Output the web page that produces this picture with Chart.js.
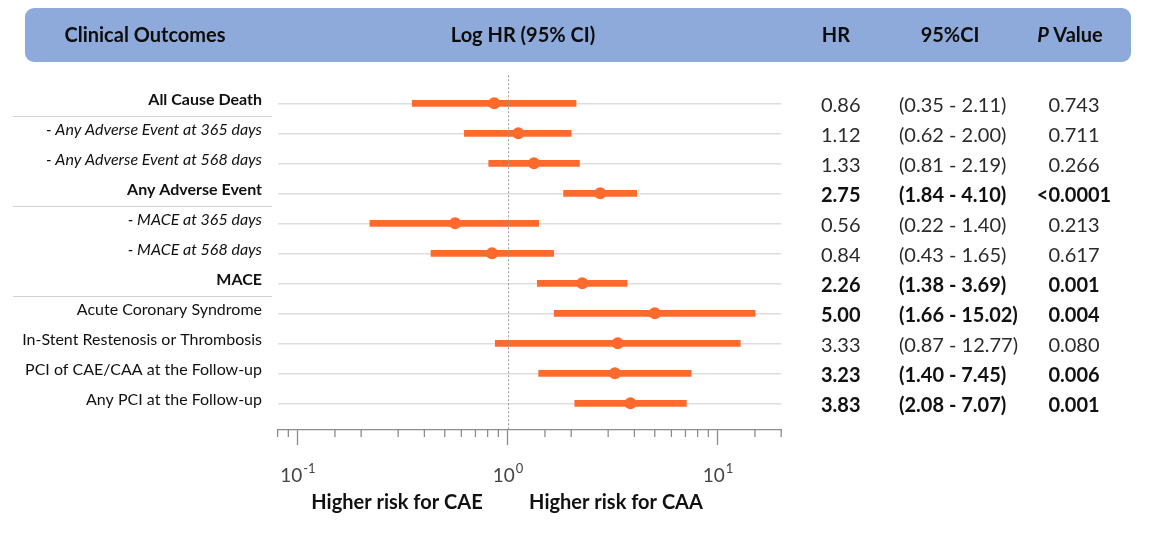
<!DOCTYPE html>
<html>
<head>
<meta charset="utf-8">
<script src="https://cdn.jsdelivr.net/npm/chart.js@4.4.1/dist/chart.umd.min.js"></script>
<style>
  html, body { margin: 0; padding: 0; background: #ffffff; }
  canvas { display: block; }
</style>
</head>
<body>
<canvas id="forest" width="1161" height="544"></canvas>
<script>
// ---- Data -------------------------------------------------------------
const outcomes = [
  'All Cause Death',
  '- Any Adverse Event at 365 days',
  '- Any Adverse Event at 568 days',
  'Any Adverse Event',
  '- MACE at 365 days',
  '- MACE at 568 days',
  'MACE',
  'Acute Coronary Syndrome',
  'In-Stent Restenosis or Thrombosis',
  'PCI of CAE/CAA at the Follow-up',
  'Any PCI at the Follow-up'
];
const hazardRatio = [0.86, 1.12, 1.33, 2.75, 0.56, 0.84, 2.26, 5.00, 3.33, 3.23, 3.83];
const ciLower     = [0.35, 0.62, 0.81, 1.84, 0.22, 0.43, 1.38, 1.66, 0.87, 1.40, 2.08];
const ciUpper     = [2.11, 2.00, 2.19, 4.10, 1.40, 1.65, 3.69, 15.02, 12.77, 7.45, 7.07];
const pValues     = ['0.743', '0.711', '0.266', '<0.0001', '0.213', '0.617', '0.001', '0.004', '0.080', '0.006', '0.001'];
const headlineOutcomes = ['All Cause Death', 'Any Adverse Event', 'MACE'];
const decadeTicks = [0.1, 1, 10];
const sideLabels = ['Higher risk for CAE', 'Higher risk for CAA'];
const columnHeaders = ['Clinical Outcomes', 'Log HR (95% CI)', 'HR', '95%CI', 'Value'];

// ---- Styling ----------------------------------------------------------
const ORANGE = '#fd6a2c';
const FONT = 'Lato, "Open Sans", sans-serif';
const isDecade = v => Math.abs(Math.log10(v) - Math.round(Math.log10(v))) < 1e-9;
const pNum = s => parseFloat(s.replace('<', ''));

const forestDecor = {
  id: 'forestDecor',
  beforeDraw(chart) {
    const ctx = chart.ctx;
    ctx.save();
    // header band
    ctx.fillStyle = '#8eaadb';
    ctx.beginPath();
    ctx.roundRect(25, 8, 1106, 54, 9);
    ctx.fill();
    ctx.fillStyle = '#0d0d0d';
    ctx.textBaseline = 'middle';
    ctx.textAlign = 'center';
    ctx.font = 'bold 20px ' + FONT;
    ctx.fillText(columnHeaders[0], 145, 36);
    ctx.fillText(columnHeaders[1], 523, 36);
    ctx.fillText(columnHeaders[2], 836, 36);
    ctx.fillText(columnHeaders[3], 950, 36);
    // "P Value" with italic P
    ctx.textAlign = 'left';
    ctx.font = 'italic bold 20px ' + FONT;
    const wP = ctx.measureText('P ').width;
    ctx.font = 'bold 20px ' + FONT;
    const wV = ctx.measureText(columnHeaders[4]).width;
    const x0 = 1070 - (wP + wV) / 2;
    ctx.font = 'italic bold 20px ' + FONT;
    ctx.fillText('P', x0, 36);
    ctx.font = 'bold 20px ' + FONT;
    ctx.fillText(columnHeaders[4], x0 + wP, 36);
    ctx.restore();
  },
  afterDatasetsDraw(chart) {
    const ctx = chart.ctx;
    const xs = chart.scales.x;
    const area = chart.chartArea;
    ctx.save();
    // reference line at HR = 1
    const x1 = Math.round(xs.getPixelForValue(1)) + 0.5;
    ctx.strokeStyle = '#9a9a9a';
    ctx.lineWidth = 1;
    ctx.setLineDash([2, 2]);
    ctx.beginPath();
    ctx.moveTo(x1, area.top + 2);
    ctx.lineTo(x1, area.bottom);
    ctx.stroke();
    ctx.setLineDash([]);
    // minor tick marks below the axis
    ctx.strokeStyle = '#8c8c8c';
    ctx.lineWidth = 1.3;
    xs.ticks.forEach(t => {
      if (isDecade(t.value)) return;
      const px = xs.getPixelForValue(t.value);
      ctx.beginPath();
      ctx.moveTo(px, area.bottom);
      ctx.lineTo(px, area.bottom + 7);
      ctx.stroke();
    });
    ctx.restore();
  },
  afterDraw(chart) {
    const ctx = chart.ctx;
    const xs = chart.scales.x;
    const ys = chart.scales.y;
    const area = chart.chartArea;
    ctx.save();
    ctx.textBaseline = 'middle';

    outcomes.forEach((name, i) => {
      const y = ys.getPixelForValue(i + 1);
      // outcome label
      const headline = headlineOutcomes.includes(name);
      const sub = name.startsWith('- ');
      ctx.fillStyle = '#111111';
      ctx.textAlign = 'right';
      ctx.font = (headline ? 'bold ' : sub ? 'italic ' : '') + '16px ' + FONT;
      ctx.fillText(name, 262, y - 3);
      // separators below headline rows
      if (headline) {
        const ySep = Math.round(ys.getPixelForValue(i + 1.42)) + 0.5;
        ctx.strokeStyle = '#d2d2d2';
        ctx.lineWidth = 1.2;
        ctx.beginPath();
        ctx.moveTo(13, ySep);
        ctx.lineTo(272, ySep);
        ctx.stroke();
      }
      // numeric columns
      const sig = pNum(pValues[i]) < 0.05;
      ctx.font = (sig ? 'bold ' : '') + '20px ' + FONT;
      ctx.fillStyle = sig ? '#111111' : '#2a2a2a';
      ctx.textAlign = 'left';
      ctx.fillText(hazardRatio[i].toFixed(2), 821, y + 2.5);
      ctx.fillText('(' + ciLower[i].toFixed(2) + ' - ' + ciUpper[i].toFixed(2) + ')', 899, y + 2.5);
      ctx.textAlign = 'center';
      ctx.fillText(pValues[i], 1074, y + 2.5);
    });

    // decade tick labels: 10 with superscript exponent
    ctx.fillStyle = '#444444';
    ctx.textBaseline = 'alphabetic';
    ctx.textAlign = 'left';
    decadeTicks.forEach(v => {
      const px = xs.getPixelForValue(v);
      const exp = String(Math.round(Math.log10(v)));
      ctx.font = '19px ' + FONT;
      const wb = ctx.measureText('10').width;
      ctx.font = '13px ' + FONT;
      const we = ctx.measureText(exp).width;
      const left = px - (wb + we + 1) / 2;
      ctx.font = '19px ' + FONT;
      ctx.fillText('10', left, area.bottom + 52);
      ctx.font = '13px ' + FONT;
      ctx.fillText(exp, left + wb + 1, area.bottom + 43);
    });

    // direction labels
    ctx.fillStyle = '#111111';
    ctx.textAlign = 'center';
    ctx.textBaseline = 'middle';
    ctx.font = 'bold 20px ' + FONT;
    ctx.fillText(sideLabels[0], 397, area.bottom + 73);
    ctx.fillText(sideLabels[1], 616, area.bottom + 73);
    ctx.restore();
  }
};

new Chart(document.getElementById('forest'), {
  type: 'bar',
  data: {
    datasets: [
      {
        type: 'scatter',
        order: 1,
        data: outcomes.map((_, i) => ({ x: hazardRatio[i], y: i + 1 })),
        pointRadius: 6,
        pointBackgroundColor: ORANGE,
        pointBorderWidth: 0,
        showLine: false
      },
      {
        type: 'bar',
        order: 2,
        indexAxis: 'y',
        data: outcomes.map((_, i) => ({ x: [ciLower[i], ciUpper[i]], y: i + 1 })),
        backgroundColor: ORANGE,
        borderWidth: 0,
        barThickness: 6
      }
    ]
  },
  options: {
    responsive: false,
    animation: false,
    devicePixelRatio: 1,
    layout: { padding: { left: 277.6, right: 379.8, top: 73.3, bottom: 54 } },
    plugins: { legend: { display: false }, tooltip: { enabled: false } },
    scales: {
      x: {
        type: 'logarithmic',
        min: 0.08,
        max: 20,
        offset: false,
        position: 'bottom',
        grid: {
          display: true,
          offset: false,
          drawOnChartArea: false,
          drawTicks: true,
          tickLength: 15,
          tickWidth: 1.3,
          tickColor: c => (c.tick && isDecade(c.tick.value)) ? '#8c8c8c' : 'rgba(0,0,0,0)'
        },
        border: { display: true, color: '#8c8c8c', width: 1.3 },
        ticks: { display: false, autoSkip: false },
        afterFit: s => { s.height = 60; }
      },
      y: {
        type: 'linear',
        min: 0,
        max: 11.89,
        offset: false,
        reverse: true,
        beginAtZero: false,
        afterBuildTicks: s => { s.ticks = outcomes.map((_, i) => ({ value: i + 1 })); },
        ticks: { display: false },
        grid: { color: '#dedede', lineWidth: 1.6, drawTicks: false, offset: false },
        border: { display: false }
      }
    }
  },
  plugins: [forestDecor]
});
</script>
</body>
</html>
